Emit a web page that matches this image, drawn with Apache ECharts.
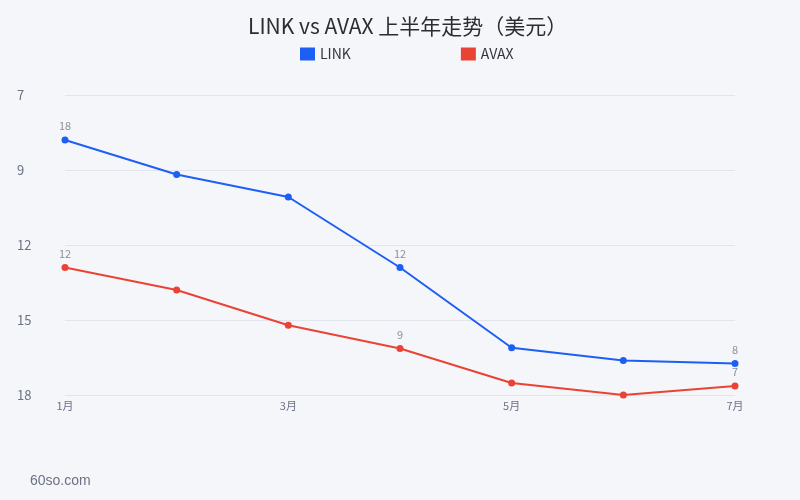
<!DOCTYPE html>
<html>
<head>
<meta charset="utf-8">
<script src="https://cdn.jsdelivr.net/npm/echarts@6/dist/echarts.min.js"></script>
<style>
html,body{margin:0;padding:0;background:#f5f6fa;}
#chart{width:800px;height:500px;}
</style>
</head>
<body>
<div id="chart"></div>
<script>
// Categories (months)
const months = ['1月', '2月', '3月', '4月', '5月', '6月', '7月'];
// Y-axis tick labels, top to bottom (axis runs 0..4 in tick steps, inverted)
const yTickLabels = ['7', '9', '12', '15', '18'];
// Series positions, in axis tick units (0 = top tick, 4 = bottom tick)
const linkValues = [0.60, 1.06, 1.36, 2.30, 3.37, 3.54, 3.58];
const avaxValues = [2.30, 2.60, 3.07, 3.38, 3.84, 4.00, 3.88];
// Data labels printed next to the points
const linkLabels = ['18', '', '', '12', '', '', '8'];
const avaxLabels = ['12', '', '', '9', '', '', '7'];

const chart = echarts.init(document.getElementById('chart'));
const font = '"Noto Sans CJK SC", "Noto Sans", sans-serif';
const labelStyle = (arr) => ({
  show: true,
  position: 'top',
  distance: 5,
  color: '#8b90a0',
  fontSize: 11,
  fontFamily: font,
  formatter: (p) => arr[p.dataIndex] || ''
});

chart.setOption({
  backgroundColor: '#f5f6fa',
  textStyle: { fontFamily: font },
  title: {
    text: 'LINK vs AVAX 上半年走势（美元）',
    left: 243,
    top: 11,
    textStyle: { fontSize: 21, fontWeight: 'normal', color: '#2b2d33', fontFamily: font }
  },
  legend: {
    left: 295,
    top: 42,
    icon: 'rect',
    itemWidth: 15,
    itemHeight: 13,
    itemGap: 110,
    textStyle: { fontSize: 14, color: '#333640', fontFamily: font },
    data: ['LINK', 'AVAX']
  },
  grid: { left: 65, right: 65, top: 95, bottom: 105 },
  xAxis: {
    type: 'category',
    boundaryGap: false,
    data: months,
    axisLine: { show: false },
    axisTick: { show: false },
    axisLabel: { interval: 1, color: '#6b7285', fontSize: 11, margin: 5, fontFamily: font }
  },
  yAxis: {
    type: 'value',
    inverse: true,
    min: 0,
    max: 4,
    interval: 1,
    axisLine: { show: false },
    axisTick: { show: false },
    splitLine: { lineStyle: { color: '#e2e5ee', width: 1 } },
    axisLabel: {
      align: 'left',
      margin: 48,
      color: '#6b7285',
      fontSize: 13,
      fontFamily: font,
      formatter: (v) => yTickLabels[Math.round(v)]
    }
  },
  series: [
    {
      name: 'LINK',
      type: 'line',
      data: linkValues,
      smooth: false,
      symbol: 'circle',
      symbolSize: 7,
      color: '#1d5ff5',
      lineStyle: { width: 2, color: '#1d5ff5' },
      itemStyle: { color: '#1d5ff5' },
      label: labelStyle(linkLabels)
    },
    {
      name: 'AVAX',
      type: 'line',
      data: avaxValues,
      smooth: false,
      symbol: 'circle',
      symbolSize: 7,
      color: '#ea4335',
      lineStyle: { width: 2, color: '#ea4335' },
      itemStyle: { color: '#ea4335' },
      label: labelStyle(avaxLabels),
      clip: false
    }
  ],
  graphic: [
    {
      type: 'text',
      left: 30,
      top: 474,
      style: { text: '60so.com', fontSize: 14, fill: '#6b7285', font: '14px "Noto Sans", sans-serif' }
    }
  ]
});
</script>
</body>
</html>
